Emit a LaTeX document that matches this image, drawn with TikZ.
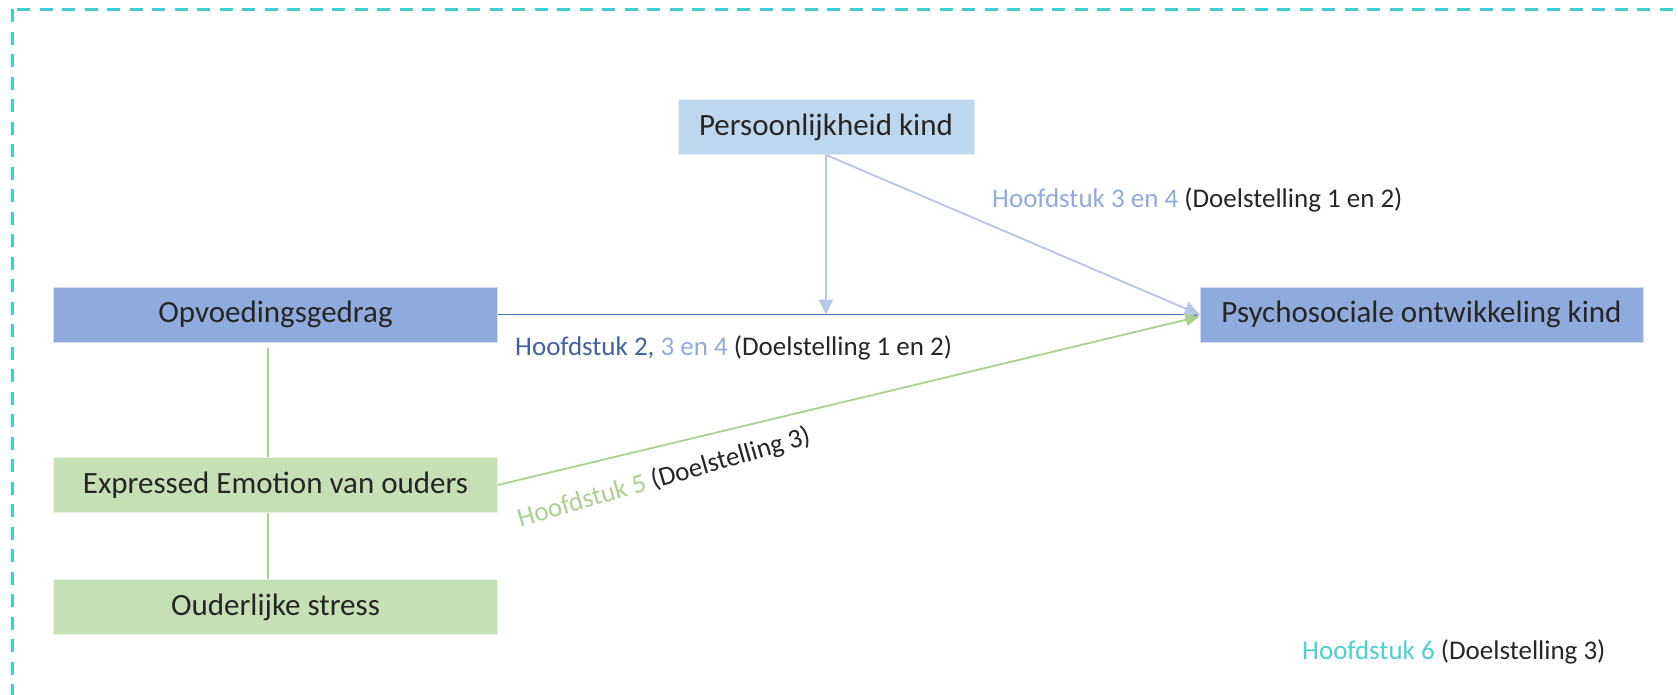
\documentclass[tikz,border=0pt]{standalone}
\usepackage{fontspec}
\setmainfont{Carlito}
\usetikzlibrary{arrows.meta}

\definecolor{frameteal}{HTML}{40CFCF}
\definecolor{boxblue}{HTML}{8FAADC}
\definecolor{boxpale}{HTML}{BDD7EE}
\definecolor{boxgreen}{HTML}{C5E0B4}
\definecolor{linedark}{HTML}{4A78C0}
\definecolor{linelight}{HTML}{B4C7E7}
\definecolor{linegreen}{HTML}{A9D18E}
\definecolor{txtdark}{HTML}{262626}
\definecolor{txtnavy}{HTML}{42619F}
\definecolor{txtlight}{HTML}{8FAADC}
\definecolor{txtgreen}{HTML}{A9D18E}
\definecolor{txtteal}{HTML}{4BCFD0}

\tikzset{
  boxtxt/.style={font=\fontsize{31}{36}\selectfont, text=txtdark},
  concept/.style={boxtxt, draw=white!60!#1, line width=0.8pt, fill=#1,
    minimum height=55pt, inner sep=0pt},
  lbl/.style={font=\fontsize{27}{32}\selectfont, text=txtdark, inner sep=0pt},
  darkarrow/.style={draw=linedark, line width=1.8pt,
    -{Triangle[length=14pt,width=13pt,fill=linedark]}},
  lightarrow/.style={draw=linelight, line width=1.8pt,
    -{Triangle[length=15pt,width=14pt,fill=linelight]}},
  greenarrow/.style={draw=linegreen, line width=1.8pt,
    -{Triangle[length=14pt,width=12pt,fill=linegreen]}},
  greenlink/.style={draw=linegreen, line width=1.5pt},
}

\begin{document}
\begin{tikzpicture}[x=1pt,y=-1pt]
  \useasboundingbox (0,0) rectangle (1678,694);
  \clip (0,0) rectangle (1678,694);

  % dashed frame around the whole study
  \draw[frameteal, line width=3pt, dash pattern=on 13pt off 9.5pt]
    (12,9) rectangle (1720,740);

  % concepts
  \node[concept=boxpale, minimum width=296pt] (pers) at (826,127)
    {Persoonlijkheid kind};
  \node[concept=boxblue, minimum width=444pt] (opv) at (275.5,314.5)
    {Opvoedingsgedrag};
  \node[concept=boxblue, minimum width=443pt] (psy) at (1421.5,314.5)
    {Psychosociale ontwikkeling kind};
  \node[concept=boxgreen, minimum width=444pt] (ee) at (275.5,485)
    {Expressed Emotion van ouders};
  \node[concept=boxgreen, minimum width=444pt] (os) at (275.5,607)
    {Ouderlijke stress};

  % links between the parent factors
  \draw[greenlink] ([xshift=-7.5pt,yshift=-6pt]opv.south) -- ([xshift=-7.5pt]ee.north);
  \draw[greenlink] ([xshift=-7.5pt]ee.south) -- ([xshift=-7.5pt]os.north);

  % paths
  \draw[darkarrow] (opv.east) -- (psy.west);
  \draw[lightarrow] (pers.south) -- (pers.south |- opv.east);
  \draw[lightarrow] (pers.south) -- (psy.west);
  \draw[greenarrow] (ee.east) -- ([yshift=-2pt]psy.west);

  % chapter labels
  \node[lbl, anchor=west] (l34) at (992,200)
    {\textcolor{txtlight}{Hoofdstuk 3 en 4} (Doelstelling 1 en 2)};
  \node[lbl, anchor=west] (l234) at (515,348)
    {\textcolor{txtnavy}{Hoofdstuk 2,} \textcolor{txtlight}{3 en 4} (Doelstelling 1 en 2)};
  \node[lbl, rotate=16] (l5) at (664,478)
    {\textcolor{txtgreen}{Hoofdstuk 5} (Doelstelling 3)};
  \node[lbl, anchor=west] (l6) at (1302,652)
    {\textcolor{txtteal}{Hoofdstuk 6} (Doelstelling 3)};
\end{tikzpicture}
\end{document}
